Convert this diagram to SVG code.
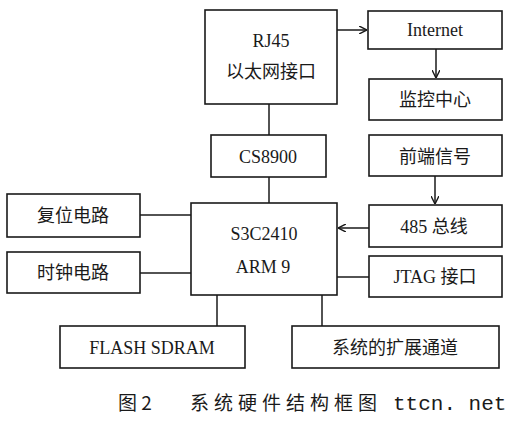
<svg xmlns="http://www.w3.org/2000/svg" width="509" height="425" viewBox="0 0 509 425">
<defs>
<marker id="arr" viewBox="0 0 10 10" refX="10" refY="5" markerWidth="8" markerHeight="8" orient="auto" markerUnits="userSpaceOnUse">
<path d="M0,0 L10,5 L0,10" fill="none" stroke="#1a1a1a" stroke-width="1.8"/>
</marker>
</defs>
<style>
.box{fill:#fff;stroke:#1a1a1a;stroke-width:1.6}
.t{font-family:"Liberation Serif","Noto Sans CJK SC",serif;font-size:18px;fill:#1a1a1a;text-anchor:middle}
.c{fill:none;stroke:#1a1a1a;stroke-width:1.5}
.cap{font-family:"Noto Sans CJK SC",sans-serif;font-size:19px;fill:#1a1a1a}
.wm{font-family:"Liberation Mono",monospace;font-size:21px;fill:#1a1a1a}
</style>
<rect width="509" height="425" fill="#fff"/>
<g id="connectors">
<line class="c" x1="337" y1="30" x2="367" y2="30" marker-end="url(#arr)"/>
<line class="c" x1="436" y1="49" x2="436" y2="78" marker-end="url(#arr)"/>
<line class="c" x1="269" y1="104" x2="269" y2="135"/>
<line class="c" x1="269" y1="177" x2="269" y2="203"/>
<line class="c" x1="435" y1="176" x2="435" y2="204" marker-end="url(#arr)"/>
<line class="c" x1="369" y1="228" x2="338" y2="228" marker-end="url(#arr)"/>
<line class="c" x1="337" y1="277" x2="369" y2="277"/>
<line class="c" x1="140" y1="215" x2="191" y2="215"/>
<line class="c" x1="140" y1="273" x2="191" y2="273"/>
<line class="c" x1="217" y1="295" x2="217" y2="326"/>
<line class="c" x1="322" y1="295" x2="322" y2="326"/>
</g>
<g id="rj45"><rect class="box" x="205" y="10" width="132" height="94"/><text class="t" x="271" y="47">RJ45</text><text class="t" x="271" y="78">以太网接口</text></g>
<g id="internet"><rect class="box" x="368" y="11" width="134" height="38"/><text class="t" x="435" y="36">Internet</text></g>
<g id="monitor"><rect class="box" x="369" y="79" width="133" height="41"/><text class="t" x="435" y="106">监控中心</text></g>
<g id="cs8900"><rect class="box" x="211" y="135" width="115" height="42"/><text class="t" x="268" y="163">CS8900</text></g>
<g id="frontend"><rect class="box" x="369" y="135" width="133" height="41"/><text class="t" x="435" y="163">前端信号</text></g>
<g id="cpu"><rect class="box" x="191" y="203" width="146" height="92"/><text class="t" x="264" y="240">S3C2410</text><text class="t" x="263" y="273">ARM 9</text></g>
<g id="rs485"><rect class="box" x="369" y="205" width="133" height="42"/><text class="t" x="434" y="233">485 总线</text></g>
<g id="jtag"><rect class="box" x="369" y="256" width="133" height="41"/><text class="t" x="435" y="283">JTAG 接口</text></g>
<g id="reset"><rect class="box" x="7" y="194" width="133" height="43"/><text class="t" x="73" y="222">复位电路</text></g>
<g id="clock"><rect class="box" x="7" y="252" width="133" height="41"/><text class="t" x="73" y="279">时钟电路</text></g>
<g id="flash"><rect class="box" x="60" y="326" width="185" height="42"/><text class="t" x="152" y="354">FLASH SDRAM</text></g>
<g id="expand"><rect class="box" x="292" y="326" width="207" height="42"/><text class="t" x="395" y="354">系统的扩展通道</text></g>
<g id="caption">
<text class="cap" x="118" y="410">图 2</text>
<text class="cap" x="190" y="410" letter-spacing="5">系统硬件结构框图</text>
<text class="wm" x="393" y="410">ttcn. net</text>
</g>
</svg>
